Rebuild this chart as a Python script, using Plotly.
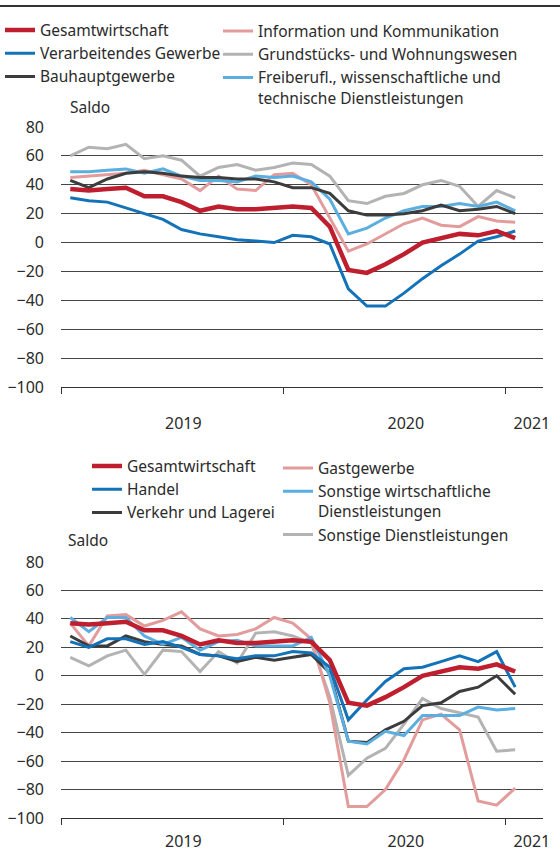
import plotly.graph_objects as go

# Months Jan 2019 .. Jan 2021 (25 monthly values)
months = ["2019-01", "2019-02", "2019-03", "2019-04", "2019-05", "2019-06",
          "2019-07", "2019-08", "2019-09", "2019-10", "2019-11", "2019-12",
          "2020-01", "2020-02", "2020-03", "2020-04", "2020-05", "2020-06",
          "2020-07", "2020-08", "2020-09", "2020-10", "2020-11", "2020-12",
          "2021-01"]
year_labels = ["2019", "2020", "2021"]
y_ticks = [80, 60, 40, 20, 0, -20, -40, -60, -80, -100]

# Top panel
gesamtwirtschaft = [37, 36, 37, 38, 32, 32, 28, 22, 25, 23, 23, 24, 25, 24, 11, -19, -21, -15, -8, 0, 3, 6, 5, 8, 3]
verarbeitendes = [31, 29, 28, 24, 20, 16, 9, 6, 4, 2, 1, 0, 5, 4, -1, -32, -44, -44, -35, -25, -16, -8, 1, 4, 8]
bauhaupt = [43, 38, 44, 48, 49, 48, 46, 45, 45, 44, 44, 42, 38, 38, 34, 22, 19, 19, 20, 22, 26, 22, 23, 25, 20]
information = [45, 46, 47, 48, 50, 47, 44, 36, 46, 37, 36, 47, 48, 40, 17, -6, -1, 6, 13, 17, 12, 11, 18, 15, 14]
grundstuecke = [60, 66, 65, 68, 58, 60, 57, 46, 52, 54, 50, 52, 55, 54, 46, 29, 27, 32, 34, 40, 43, 39, 25, 36, 31]
freiberufl = [49, 49, 50, 51, 48, 51, 46, 43, 43, 42, 46, 45, 46, 42, 30, 6, 10, 17, 22, 25, 25, 27, 25, 28, 22]

# Bottom panel
handel = [24, 20, 26, 26, 22, 24, 20, 15, 14, 12, 14, 14, 17, 16, 6, -31, -17, -4, 5, 6, 10, 14, 10, 17, -8]
verkehr = [28, 21, 21, 28, 24, 22, 21, 15, 14, 10, 13, 11, 13, 15, 2, -46, -47, -38, -32, -21, -19, -11, -8, 0, -13]
gastgewerbe = [37, 21, 42, 43, 35, 39, 45, 33, 28, 29, 33, 41, 37, 26, -19, -92, -92, -80, -59, -31, -27, -38, -88, -91, -79]
sonst_wirtschaftl = [41, 31, 41, 41, 28, 22, 27, 18, 24, 25, 21, 21, 21, 27, 0, -46, -48, -39, -42, -28, -28, -28, -22, -24, -23]
sonst_dl = [13, 7, 14, 18, 1, 18, 17, 3, 17, 9, 30, 31, 28, 23, -15, -70, -58, -51, -34, -16, -23, -26, -29, -53, -52]

RED = "#BE1E2D"
BLUE = "#1372B8"
DARK = "#3C3C3C"
PINK = "#E39C9C"
LGRAY = "#B3B3B3"
LBLUE = "#5AAEE0"
FONT = "Noto Sans"
TXT = "#2B2B2B"

xpos = [i + 0.5 for i in range(len(months))]

fig = go.Figure()

def add(y, name, color, width, xa, ya, legend, rank):
    fig.add_trace(go.Scatter(
        x=xpos, y=y, name=name, mode="lines", customdata=months,
        line=dict(color=color, width=width),
        xaxis=xa, yaxis=ya, legend=legend, legendrank=rank,
        hovertemplate="%{customdata}: %{y}<extra>" + name.replace("<br>", " ") + "</extra>"))

# top panel (draw order)
add(grundstuecke, "Grundstücks- und Wohnungswesen", LGRAY, 3, "x", "y", "legend2", 2)
add(information, "Information und Kommunikation", PINK, 3, "x", "y", "legend2", 1)
add(freiberufl, "Freiberufl., wissenschaftliche und<br>technische Dienstleistungen", LBLUE, 3, "x", "y", "legend2", 3)
add(bauhaupt, "Bauhauptgewerbe", DARK, 3, "x", "y", "legend", 3)
add(verarbeitendes, "Verarbeitendes Gewerbe", BLUE, 3, "x", "y", "legend", 2)
add(gesamtwirtschaft, "Gesamtwirtschaft", RED, 4.5, "x", "y", "legend", 1)

# bottom panel
add(sonst_dl, "Sonstige Dienstleistungen", LGRAY, 3, "x2", "y2", "legend4", 3)
add(gastgewerbe, "Gastgewerbe", PINK, 3, "x2", "y2", "legend4", 1)
add(verkehr, "Verkehr und Lagerei", DARK, 3, "x2", "y2", "legend3", 3)
add(sonst_wirtschaftl, "Sonstige wirtschaftliche<br>Dienstleistungen", LBLUE, 3, "x2", "y2", "legend4", 2)
add(handel, "Handel", BLUE, 3, "x2", "y2", "legend3", 2)
add(gesamtwirtschaft, "Gesamtwirtschaft", RED, 4.5, "x2", "y2", "legend3", 1)

H = 852.0
L, R = 61, 17
PW = 560 - L - R

def py(p):
    return 1 - p / H

def pxx(p):
    return (p - L) / PW

def xaxis_cfg(standoff):
    return dict(range=[0, 26], showgrid=False, zeroline=False, showline=True,
                linecolor="#333333", linewidth=1, automargin=False,
                tickvals=[6.6, 18.6, 25.4], ticktext=year_labels, ticks="",
                ticklabelstandoff=standoff,
                minor=dict(tickvals=[0, 12, 24], ticks="outside", ticklen=6,
                           tickcolor="#333333", tickwidth=1, showgrid=False),
                tickfont=dict(family=FONT, size=16, color=TXT), fixedrange=True)

ycommon = dict(range=[-100, 80], tickvals=y_ticks, showgrid=True, gridcolor="#444444",
               gridwidth=1, zeroline=False, showline=False, ticks="", automargin=False,
               ticklabelstandoff=16,
               tickfont=dict(family=FONT, size=16, color=TXT), fixedrange=True)

legfont = dict(family=FONT, size=15.5, color=TXT)
legcommon = dict(font=legfont, bgcolor="rgba(0,0,0,0)", xanchor="left", yanchor="top",
                 valign="top", tracegroupgap=0, itemclick=False, itemdoubleclick=False)

fig.update_layout(
    width=560, height=852,
    margin=dict(l=L, r=R, t=0, b=0, autoexpand=False),
    paper_bgcolor="white", plot_bgcolor="white",
    font=dict(family=FONT, size=16, color=TXT),
    xaxis=dict(anchor="y", domain=[0, 1], **xaxis_cfg(22)),
    xaxis2=dict(anchor="y2", domain=[0, 1], **xaxis_cfg(9)),
    yaxis=dict(anchor="x", domain=[py(387), py(127)], **ycommon),
    yaxis2=dict(anchor="x2", domain=[py(818), py(562)], **ycommon),
    legend=dict(x=pxx(0), y=py(13.5), **legcommon),
    legend2=dict(x=pxx(218), y=py(14.5), **legcommon),
    legend3=dict(x=pxx(87), y=py(449.5), **legcommon),
    legend4=dict(x=pxx(278), y=py(451.5), **legcommon),
    annotations=[
        dict(text="Saldo", xref="paper", yref="paper", x=pxx(68), y=py(107),
             xanchor="left", yanchor="middle", showarrow=False, font=legfont),
        dict(text="Saldo", xref="paper", yref="paper", x=pxx(66), y=py(540),
             xanchor="left", yanchor="middle", showarrow=False, font=legfont),
    ],
    showlegend=True,
)
# rule line under the (cropped) headline
fig.add_shape(type="line", xref="paper", yref="paper", x0=pxx(0), x1=pxx(560),
              y0=py(6), y1=py(6), line=dict(color="#333333", width=2))

fig.write_html("out.html", config={"displayModeBar": False},
               post_script="document.body.style.margin='0';")
